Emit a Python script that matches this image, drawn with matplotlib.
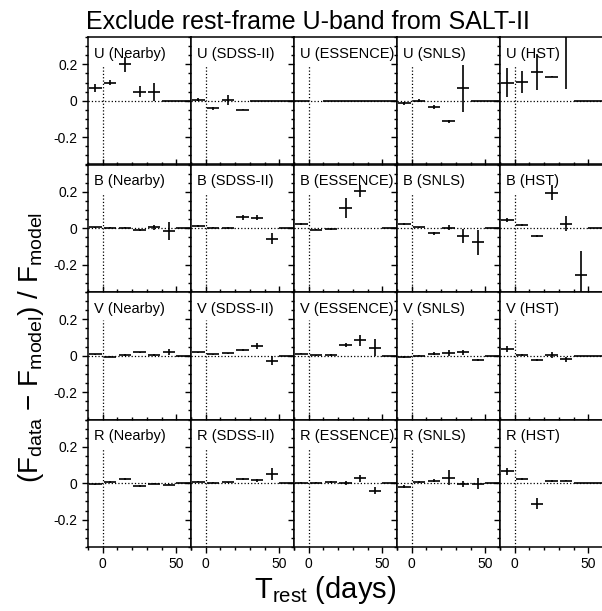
import numpy as np
import matplotlib.pyplot as plt
from matplotlib.ticker import MultipleLocator

nan = np.nan

bands = ['U', 'B', 'V', 'R']
surveys = ['Nearby', 'SDSS-II', 'ESSENCE', 'SNLS', 'HST']
t_bins = [-5, 5, 15, 25, 35, 45, 55]

# residuals per survey (rows) and rest-frame epoch bin (columns)
# err == 0 and value == 0 -> empty bin, drawn as a flat segment
resid_U = [[0.07, 0.10, 0.20, 0.05, 0.05, 0, 0],
           [0.005, -0.042, 0.004, -0.049, 0, 0, 0],
           [0, nan, 0, 0, 0, 0, 0],
           [-0.015, 0.0, -0.033, -0.113, 0.069, 0, 0],
           [0.10, 0.104, 0.158, 0.133, 0.50, 0, 0]]
err_U = [[0.02, 0.012, 0.04, 0.03, 0.05, 0, 0],
         [0.008, 0.008, 0.027, 0.003, 0, 0, 0],
         [0, nan, 0, 0, 0, 0, 0],
         [0.008, 0.008, 0.012, 0.008, 0.13, 0, 0],
         [0.082, 0.06, 0.10, 0.005, 0.435, 0, 0]]

resid_B = [[0.005, 0.003, 0.002, -0.009, 0.005, -0.015, 0],
           [0.013, 0.004, 0.002, 0.06, 0.058, -0.058, 0],
           [0.024, -0.007, -0.005, 0.109, 0.205, nan, 0],
           [0.024, 0.005, -0.027, 0.004, -0.042, -0.078, 0],
           [0.045, 0.02, -0.044, 0.195, 0.025, -0.258, 0]]
err_B = [[0.003, 0.003, 0.003, 0.006, 0.015, 0.048, 0],
         [0.004, 0.003, 0.005, 0.012, 0.015, 0.03, 0],
         [0.004, 0.004, 0.006, 0.055, 0.032, nan, 0],
         [0.004, 0.004, 0.008, 0.012, 0.04, 0.07, 0],
         [0.01, 0.006, 0.006, 0.04, 0.04, 0.134, 0]]

resid_V = [[0.007, -0.005, 0.004, 0.018, 0.005, 0.02, 0],
           [0.018, 0.007, 0.013, 0.033, 0.053, -0.027, 0],
           [0.011, 0.002, 0.004, 0.058, 0.084, 0.045, 0],
           [-0.009, 0.0, 0.011, 0.016, 0.018, -0.022, 0],
           [0.038, 0.005, -0.024, 0.005, -0.02, 0, 0]]
err_V = [[0.003, 0.003, 0.003, 0.004, 0.005, 0.015, 0],
         [0.003, 0.003, 0.004, 0.005, 0.015, 0.025, 0],
         [0.003, 0.003, 0.005, 0.012, 0.03, 0.045, 0],
         [0.005, 0.003, 0.008, 0.015, 0.015, 0.006, 0],
         [0.015, 0.006, 0.006, 0.015, 0.015, 0, 0]]

resid_R = [[-0.005, 0.007, 0.022, -0.013, -0.002, -0.007, 0],
           [0.009, 0.004, 0.005, 0.022, 0.016, 0.051, 0],
           [0.004, 0.004, 0.009, 0.002, 0.027, -0.04, 0],
           [-0.018, 0.005, 0.015, 0.031, -0.005, -0.002, 0],
           [0.065, 0.024, -0.113, 0.011, 0.015, 0, 0]]
err_R = [[0.003, 0.003, 0.006, 0.005, 0.004, 0.005, 0],
         [0.003, 0.003, 0.004, 0.005, 0.008, 0.035, 0],
         [0.003, 0.003, 0.006, 0.01, 0.02, 0.02, 0],
         [0.006, 0.005, 0.01, 0.04, 0.015, 0.03, 0],
         [0.02, 0.006, 0.03, 0.005, 0.004, 0, 0]]

resid = {'U': resid_U, 'B': resid_B, 'V': resid_V, 'R': resid_R}
errs = {'U': err_U, 'B': err_B, 'V': err_V, 'R': err_R}

plt.rcParams['font.family'] = 'Liberation Sans'
plt.rcParams['mathtext.fontset'] = 'custom'
plt.rcParams['mathtext.rm'] = 'Liberation Sans'
plt.rcParams['axes.unicode_minus'] = False

W, H = 602, 611
fig = plt.figure(figsize=(W / 100, H / 100), dpi=100)

left_px, top_px, col_w, row_h = 88, 37, 103, 127.5
t = np.array(t_bins, dtype=float)

for r, band in enumerate(bands):
    for c, survey in enumerate(surveys):
        x0 = left_px + c * col_w
        y1 = top_px + (r + 1) * row_h
        ax = fig.add_axes([x0 / W, 1 - y1 / H, col_w / W, row_h / H])
        ax.set_xlim(-10, 60)
        ax.set_ylim(-0.35, 0.35)

        ax.axhline(0, color='black', ls=':', lw=0.9)
        ax.axvline(0, ymax=0.78, color='black', ls=':', lw=0.9)

        y = np.array(resid[band][c], dtype=float)
        e = np.array(errs[band][c], dtype=float)
        data = e > 0
        empty = (e == 0) & (y == 0)
        ax.errorbar(t[data], y[data], xerr=4.2, yerr=e[data], fmt='none',
                    ecolor='black', elinewidth=1.2, capsize=0)
        ax.hlines(np.zeros(empty.sum()), t[empty] - 5, t[empty] + 5,
                  color='black', lw=1.2)

        ax.text(0.055, 0.925, f'{band} ({survey})', transform=ax.transAxes,
                fontsize=10.5, ha='left', va='top')

        ax.xaxis.set_major_locator(MultipleLocator(50))
        ax.xaxis.set_minor_locator(MultipleLocator(10))
        ax.yaxis.set_major_locator(MultipleLocator(0.2))
        ax.yaxis.set_minor_locator(MultipleLocator(0.05))
        ax.yaxis.set_major_formatter(lambda v, p: '0' if abs(v) < 1e-9 else f'{v:.1f}')
        ax.tick_params(which='both', direction='out', left=True, right=False,
                       top=(r > 0), bottom=(r == 3), labelleft=(c == 0),
                       labelbottom=(r == 3), labeltop=False, labelsize=10,
                       width=1.0)
        ax.tick_params(which='major', length=4)
        ax.tick_params(which='minor', length=2.5)
        for s in ax.spines.values():
            s.set_linewidth(1.1)

fig.text(86 / W, 1 - 29 / H, 'Exclude rest-frame U-band from SALT-II',
         fontsize=18, ha='left', va='baseline')
fig.text(31 / W, 1 - 348 / H,
         r'(F$_{\rm data}$ $-$ F$_{\rm model}$) / F$_{\rm model}$',
         rotation=90, fontsize=20, ha='center', va='center')
fig.text(325 / W, 1 - 590 / H, r'T$_{\rm rest}$ (days)',
         fontsize=21, ha='center', va='center')

fig.savefig('out.png', dpi=100)
